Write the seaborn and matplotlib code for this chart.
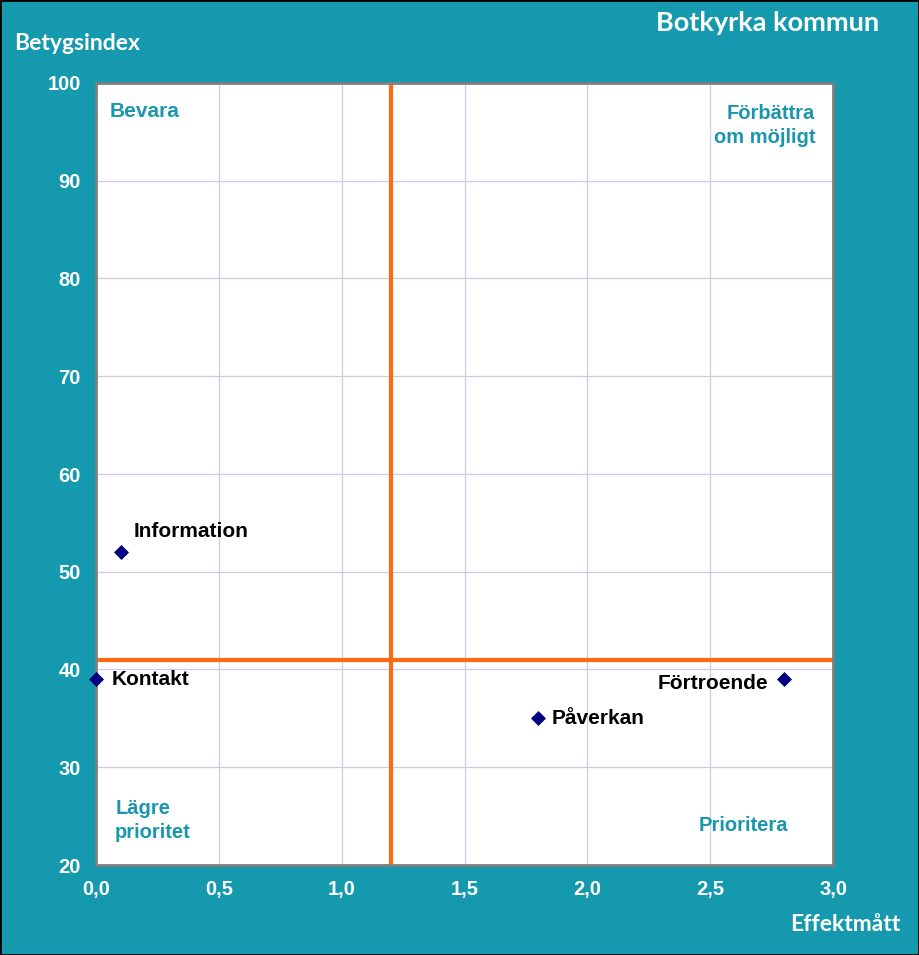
import matplotlib
matplotlib.use("Agg")
import matplotlib.pyplot as plt
import seaborn as sns
import pandas as pd

names = ["Information", "Kontakt", "Påverkan", "Förtroende"]
effekt = [0.1, 0.0, 1.8, 2.8]
betyg = [52, 39, 35, 39]
x_ticks = [0.0, 0.5, 1.0, 1.5, 2.0, 2.5, 3.0]
x_labels = ["0,0", "0,5", "1,0", "1,5", "2,0", "2,5", "3,0"]
y_ticks = [20, 30, 40, 50, 60, 70, 80, 90, 100]
x_split = 1.2
y_split = 41

TEAL = "#1599AF"
df = pd.DataFrame({"name": names, "x": effekt, "y": betyg})

sns.set_theme(style="white")
plt.rcParams['font.family'] = ['Liberation Sans', 'DejaVu Sans']

fig = plt.figure(figsize=(9.19, 9.55), dpi=100, facecolor=TEAL)
fig.patches.append(plt.Rectangle((0, 0), 1, 1, transform=fig.transFigure,
                                 fill=False, edgecolor="black", linewidth=2))
ax = fig.add_axes([96/919, 90/955, 737/919, 782/955])
ax.set_facecolor("white")

ax.set_xlim(0, 3)
ax.set_ylim(20, 100)
ax.set_xticks(x_ticks)
ax.set_xticklabels(x_labels)
ax.set_yticks(y_ticks)
ax.grid(True, color="#CCCCE6", linewidth=0.9)
ax.set_axisbelow(True)
for s in ax.spines.values():
    s.set_color("#7F7F7F")
    s.set_linewidth(2)
ax.tick_params(axis="both", colors="white", labelsize=14.5, length=0, pad=11)
for lbl in ax.get_xticklabels() + ax.get_yticklabels():
    lbl.set_fontweight("bold")
    lbl.set_family(["Liberation Sans", "DejaVu Sans"])

ax.axvline(x_split, color="#FF6A10", linewidth=3, zorder=2)
ax.axhline(y_split, color="#FF6A10", linewidth=3, zorder=2)

sns.scatterplot(data=df, x="x", y="y", ax=ax, marker="D", s=50,
                color="#000080", edgecolor="#000080", zorder=5, clip_on=False,
                legend=False)
ax.set_xlabel("")
ax.set_ylabel("")

offsets = {"Information": (9.5, 15, "left"), "Kontakt": (11.5, 0, "left"),
           "Påverkan": (10, 0, "left"), "Förtroende": (-11, -3, "right")}
for n, xv, yv in zip(names, effekt, betyg):
    dx, dy, ha = offsets[n]
    ax.annotate(n, (xv, yv), xytext=(dx, dy), textcoords="offset points",
                ha=ha, va="center",
                fontsize=15, fontweight="bold", color="black")

qcol = "#1A96AE"
ax.text(0.019, 0.963, "Bevara", transform=ax.transAxes, color=qcol,
        fontsize=15, fontweight="bold", ha="left", va="center")
ax.text(0.976, 0.9457, "Förbättra\nom möjligt", transform=ax.transAxes, color=qcol,
        fontsize=14.5, fontweight="bold", ha="right", va="center", multialignment="right",
        linespacing=1.35)
ax.text(0.026, 0.0569, "Lägre\nprioritet", transform=ax.transAxes, color=qcol,
        fontsize=14.5, fontweight="bold", ha="left", va="center", linespacing=1.3)
ax.text(0.939, 0.05, "Prioritera", transform=ax.transAxes, color=qcol,
        fontsize=14.5, fontweight="bold", ha="right", va="center")

fig.text(14/919, 1 - 43/955, "Betygsindex", color="white", fontsize=16.5,
         fontweight="bold", family=["Lato", "DejaVu Sans"], ha="left", va="center")
fig.text(879/919, 1 - 23/955, "Botkyrka kommun", color="white", fontsize=19.5,
         fontweight="bold", family=["Lato", "DejaVu Sans"], ha="right", va="center")
fig.text(900/919, 1 - 924/955, "Effektmått", color="white", fontsize=16.5,
         fontweight="bold", family=["Lato", "DejaVu Sans"], ha="right", va="center")

fig.savefig("out.png", dpi=100, facecolor=TEAL)
